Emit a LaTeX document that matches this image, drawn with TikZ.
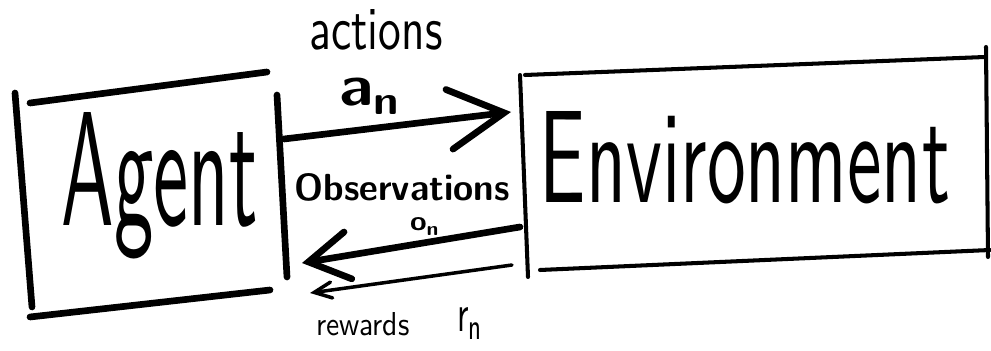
\documentclass[tikz,border=0pt]{standalone}
\usepackage{graphicx}
\usetikzlibrary{arrows.meta}
% squeeze a handwritten-looking label into a given width x height
\newcommand{\handtext}[3]{\resizebox{#1}{#2}{\sffamily #3}}

\begin{document}
\begin{tikzpicture}[x=0.02cm, y=-0.02cm,
  % heavy pen: agent box, actions / observations arrows
  pen/.style     = {line width=3.8pt, line cap=round, black},
  % lighter pen: environment box
  thinpen/.style = {line width=2.3pt, line cap=round, black},
  % fine pen: rewards arrow
  finepen/.style = {line width=2pt, line cap=round, black},
  % hand lettering
  hand/.style    = {inner sep=0, outer sep=0, anchor=base},
]
\useasboundingbox (0,0) rectangle (991,351);

% ──────────────────────────
%  Agent box (four loose strokes)
% ──────────
\draw[pen] (15,93)  -- (32,307);
\draw[pen] (30,103) -- (267,72);
\draw[pen] (277,95) -- (287,277);
\draw[pen] (30,317) -- (270,290);

\node[hand] (agent) at (160,226) {\handtext{3.92cm}{2.26cm}{Agent}};

% ──────────────────────────
%  Environment box
% ──────────
\draw[thinpen] (520,75)  -- (528,277);
\draw[thinpen] (525,75)  -- (985,57);
\draw[thinpen] (986,47)  -- (988,257);
\draw[thinpen] (540,270) -- (990,250);

\node[hand] (env) at (745,203) {\handtext{8.2cm}{1.82cm}{Environment}};

% ──────────────────────────
%  Connectors between the two boxes
% ──────────
\coordinate (act-s) at (284,139);
\coordinate (act-e) at (511,112);
\coordinate (obs-s) at (520,227);
\coordinate (obs-e) at (302,263);
\coordinate (rew-s) at (512,265);
\coordinate (rew-e) at (310,293);

% actions a_n
\draw[pen, -{Straight Barb[length=11mm, width=12mm, line cap=round]}]
  (act-s) -- (act-e);
\node[hand] (act-lbl) at (376,50) {\handtext{2.66cm}{0.8cm}{actions}};
\node[hand] (act-sym) at (371,106)
  {\handtext{1.26cm}{0.55cm}{\bfseries a\textsubscript{n}}};

% observations o_n
\draw[pen, -{Straight Barb[length=8mm, width=9.5mm, line cap=round]}]
  (obs-s) -- (obs-e);
\node[hand] (obs-lbl) at (402,201)
  {\handtext{4.3cm}{0.54cm}{\bfseries Observations}};
\node[hand] (obs-sym) at (425,231)
  {\handtext{0.6cm}{0.26cm}{\bfseries o\textsubscript{n}}};

% rewards r_n
\draw[finepen, -{Straight Barb[length=3.5mm, width=3.2mm, line cap=round]}]
  (rew-s) -- (rew-e);
\node[hand] (rew-lbl) at (363,336) {\handtext{1.86cm}{0.46cm}{rewards}};
\node[hand] (rew-sym) at (470,332) {\handtext{0.52cm}{0.48cm}{r\textsubscript{n}}};

\end{tikzpicture}
\end{document}
